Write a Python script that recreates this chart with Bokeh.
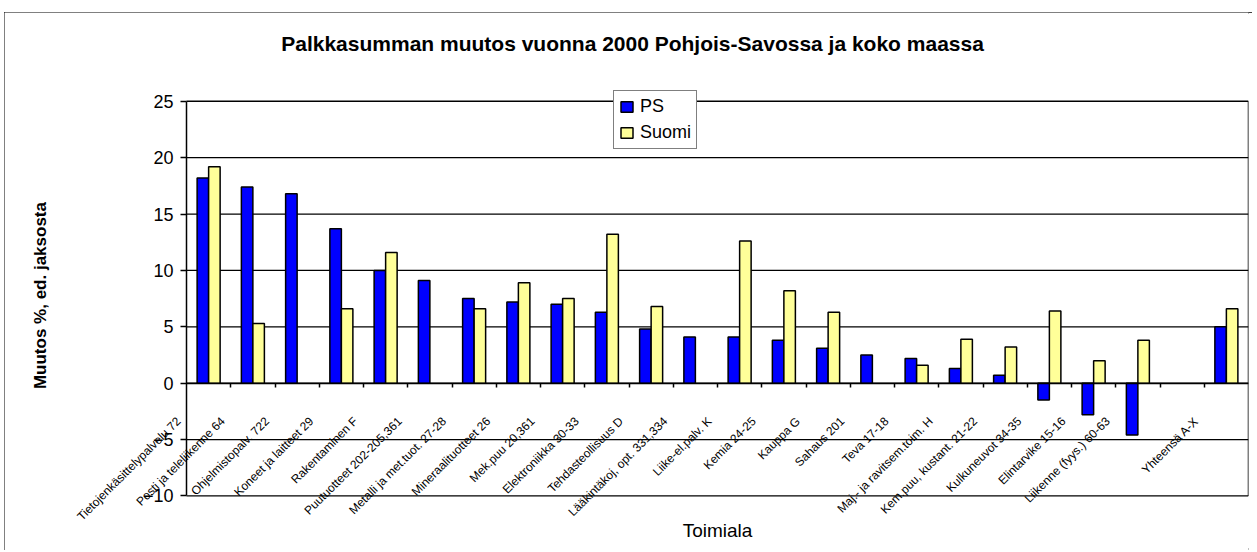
import math
from bokeh.plotting import figure
from bokeh.models import (Range1d, FixedTicker, LinearAxis, CustomJSTickFormatter,
                          InlineStyleSheet, Label)
from bokeh.embed import file_html
from bokeh.resources import INLINE

nan = float("nan")

title_text = "Palkkasumman muutos vuonna 2000 Pohjois-Savossa ja koko maassa"
y_label = "Muutos %, ed. jaksosta"
x_label = "Toimiala"
series_names = ["PS", "Suomi"]

categories = [
    "Tietojenkäsittelypalvelu 72",
    "Posti ja teleliikenne 64",
    "Ohjelmistopalv. 722",
    "Koneet ja laitteet 29",
    "Rakentaminen F",
    "Puutuotteet 202-205,361",
    "Metalli ja met.tuot. 27-28",
    "Mineraalituotteet 26",
    "Mek.puu 20,361",
    "Elektroniikka 30-33",
    "Tehdasteollisuus D",
    "Lääkintäkoj, opt. 331,334",
    "Liike-el.palv. K",
    "Kemia 24-25",
    "Kauppa G",
    "Sahaus 201",
    "Teva 17-18",
    "Maj.- ja ravitsem.toim. H",
    "Kem.puu, kustant. 21-22",
    "Kulkuneuvot 34-35",
    "Elintarvike 15-16",
    "Liikenne (fyys.) 60-63",
    "",
    "Yhteensä A-X",
]

ps = [18.2, 17.4, 16.8, 13.7, 10.0, 9.1, 7.5, 7.2, 7.0, 6.3, 4.8, 4.1,
      4.1, 3.8, 3.1, 2.5, 2.2, 1.3, 0.7, -1.5, -2.8, -4.6, nan, 5.0]
suomi = [19.2, 5.3, nan, 6.6, 11.6, nan, 6.6, 8.9, 7.5, 13.2, 6.8, nan,
         12.6, 8.2, 6.3, nan, 1.6, 3.9, 3.2, 6.4, 2.0, 3.8, nan, 6.6]

y_ticks = [-10, -5, 0, 5, 10, 15, 20, 25]

FONT = "Liberation Sans"
LABEL_FONT = "Liberation Sans Narrow, Arial Narrow, Liberation Sans"

n = len(categories)
centers = [i + 0.5 for i in range(n)]
y_lo, y_hi = y_ticks[0], y_ticks[-1]
bar_w = 0.26
label_shift = 0.68

# the frame covers the whole figure so that rotated labels are not clipped;
# the visible plot area spans x 0..n and y -10..25
p = figure(
    width=1248, height=538,
    x_range=Range1d(-4.113, n), y_range=Range1d(-14.835, 32.87),
    x_axis_location=None, y_axis_location=None,
    output_backend="svg", toolbar_location=None,
    min_border_left=0, min_border_right=4, min_border_top=0, min_border_bottom=0,
)
p.margin = (12, 0, 0, 4)
p.stylesheets = [InlineStyleSheet(css=":host { outline: 2px solid black; outline-offset: -2px; }")]
p.title.visible = False
p.outline_line_color = None
p.background_fill_color = "white"
p.border_fill_color = "white"
for g in p.grid:
    g.visible = False

# horizontal gridlines and right border of the plot area
p.segment(x0=[0] * len(y_ticks), x1=[n] * len(y_ticks), y0=y_ticks, y1=y_ticks,
          line_color="black", line_width=1.3)
p.segment(x0=[n], x1=[n], y0=[y_lo], y1=[y_hi], line_color="black", line_width=1.5)

# bars
p.vbar(x=[c - bar_w / 2 for c in centers], top=ps, bottom=0, width=bar_w,
       fill_color="#0000FF", line_color="black", line_width=1.5,
       legend_label=series_names[0])
p.vbar(x=[c + bar_w / 2 for c in centers], top=suomi, bottom=0, width=bar_w,
       fill_color="#FFFF99", line_color="black", line_width=1.5,
       legend_label=series_names[1])

# y axis at x = 0
ya = LinearAxis(
    fixed_location=0, bounds=(y_lo, y_hi),
    ticker=FixedTicker(ticks=y_ticks),
    major_label_text_font=FONT, major_label_text_font_size="18px",
    major_label_text_color="black",
    major_tick_out=6, major_tick_in=0,
    major_tick_line_color="black", major_tick_line_width=1.5,
    minor_tick_line_color=None,
    axis_line_color="black", axis_line_width=1.5,
    major_label_standoff=7,
)
p.add_layout(ya, "left")

# category axis at y = 0: tick marks between groups
tick_axis = LinearAxis(
    fixed_location=0, bounds=(0, n),
    ticker=FixedTicker(ticks=list(range(1, n))),
    formatter=CustomJSTickFormatter(code="return '';"),
    major_tick_out=4, major_tick_in=0,
    major_tick_line_color="black", major_tick_line_width=1.5,
    minor_tick_line_color=None,
    axis_line_color="black", axis_line_width=1.5,
)
p.add_layout(tick_axis, "below")

# category labels at y = 0, rotated
label_axis = LinearAxis(
    fixed_location=0,
    ticker=FixedTicker(ticks=[c - label_shift for c in centers]),
    formatter=CustomJSTickFormatter(
        args=dict(labels=categories, shift=label_shift),
        code="const i = Math.round(tick + shift - 0.5); return (i >= 0 && i < labels.length) ? labels[i] : '';"),
    major_tick_out=0, major_tick_in=0,
    major_tick_line_color=None, minor_tick_line_color=None,
    axis_line_color=None,
    major_label_orientation=math.pi / 4,
    major_label_standoff=36,
    major_label_text_font=LABEL_FONT,
    major_label_text_font_size="12px",
    major_label_text_color="black",
)
p.add_layout(label_axis, "below")

# titles
p.add_layout(Label(x=10.08, y=30.12, text=title_text, text_align="center",
                   text_baseline="middle", text_font=FONT, text_font_size="21px",
                   text_font_style="bold", text_color="black"))
p.add_layout(Label(x=-3.30, y=7.77, text=y_label, angle=math.pi / 2,
                   text_align="center", text_baseline="middle", text_font=FONT,
                   text_font_size="17px", text_font_style="bold", text_color="black"))
p.add_layout(Label(x=n / 2, y=-13.06, text=x_label, text_align="center",
                   text_baseline="middle", text_font=FONT, text_font_size="19px",
                   text_color="black"))

lg = p.legend[0]
lg.location = (609, 401)
lg.border_line_color = "black"
lg.border_line_width = 1.5
lg.background_fill_color = "white"
lg.background_fill_alpha = 1
lg.label_text_font = FONT
lg.label_text_font_size = "18px"
lg.label_text_color = "black"
lg.padding = 5
lg.margin = 0
lg.spacing = 5
lg.glyph_width = 15
lg.glyph_height = 13
lg.label_height = 20
lg.label_standoff = 6

open("out.html", "w").write(file_html(p, INLINE))
